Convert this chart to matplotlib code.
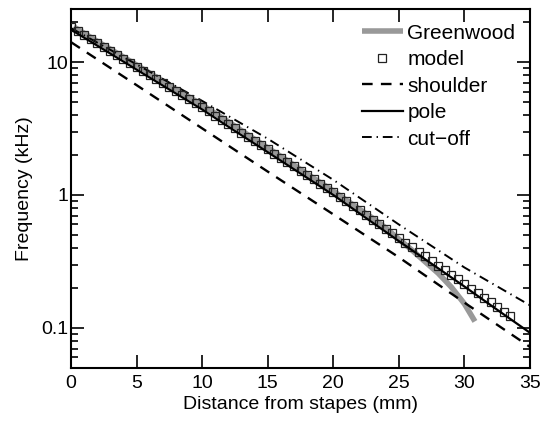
import matplotlib
matplotlib.use("Agg")
from matplotlib import pyplot as plt
from matplotlib.ticker import LogLocator, NullFormatter, FixedLocator, FixedFormatter

plt.rcParams['font.family'] = ['Liberation Sans', 'DejaVu Sans']

# Greenwood map (thick gray)
gw_x = [0.2, 2, 4, 6, 8, 10, 12, 14, 16, 18, 20, 22, 23, 24, 25, 26, 27, 28, 29, 30, 30.8]
gw_f = [18.4, 14.3, 10.9, 8.25, 6.25, 4.75, 3.55, 2.62, 1.95, 1.44, 1.07, 0.78, 0.67, 0.565,
        0.465, 0.385, 0.315, 0.258, 0.203, 0.152, 0.112]

# model (open squares), every 0.5 mm
model_x = [i * 0.5 for i in range(68)]
model_f = [18.28, 17.06, 15.92, 14.86, 13.87, 12.94, 12.08, 11.27, 10.52, 9.82,
           9.16, 8.55, 7.98, 7.45, 6.95, 6.49, 6.05, 5.65, 5.27, 4.92,
           4.59, 4.27, 3.96, 3.68, 3.42, 3.18, 2.95, 2.74, 2.55, 2.37,
           2.20, 2.04, 1.90, 1.76, 1.64, 1.52, 1.41, 1.31, 1.22, 1.13,
           1.05, 0.972, 0.898, 0.829, 0.766, 0.707, 0.653, 0.603, 0.557, 0.515,
           0.475, 0.439, 0.406, 0.375, 0.346, 0.320, 0.295, 0.273, 0.252, 0.233,
           0.215, 0.198, 0.183, 0.169, 0.156, 0.144, 0.133, 0.123]

# shoulder (dashed)
sh_x = [0, 5, 10, 15, 20, 25, 30, 35]
sh_f = [14.1, 6.7, 3.17, 1.5, 0.715, 0.34, 0.155, 0.072]

# pole (solid)
pole_x = [0, 2.5, 5, 7.5, 10, 12.5, 15, 17.5, 20, 22.5, 25, 27.5, 30, 32.5, 35]
pole_f = [17.5, 12.4, 8.77, 6.21, 4.40, 3.03, 2.10, 1.45, 1.00, 0.671, 0.450, 0.304,
          0.205, 0.137, 0.092]

# cut-off (dash-dot)
co_x = [0, 5, 10, 15, 20, 25, 30, 35]
co_f = [18.0, 9.6, 5.1, 2.65, 1.30, 0.60, 0.285, 0.148]

fig = plt.figure(figsize=(5.4, 4.23), dpi=100)
ax = fig.add_axes([0.1315, 0.130, 0.85, 0.8485])

ax.plot(gw_x, gw_f, color='#999999', lw=4, solid_capstyle='butt', label='Greenwood', zorder=1)
ax.plot(model_x, model_f, ls='none', marker='s', ms=6.3, mfc='none', mec='#222222', mew=0.9,
        label='model', zorder=3)
ax.plot(sh_x, sh_f, color='black', lw=1.7, dashes=(4.5, 3.5), label='shoulder', zorder=2)
ax.plot(pole_x, pole_f, color='black', lw=1.6, label='pole', zorder=4)
ax.plot(co_x, co_f, color='black', lw=1.4, dashes=(5, 2.5, 0.7, 2.5), label='cut\u2212off', zorder=2)

ax.set_yscale('log')
ax.set_xlim(0, 35)
ax.set_ylim(0.05, 25)

ax.xaxis.set_major_locator(FixedLocator([0, 5, 10, 15, 20, 25, 30, 35]))
ax.yaxis.set_major_locator(FixedLocator([0.1, 1, 10]))
ax.yaxis.set_major_formatter(FixedFormatter(['0.1', '1', '10']))
ax.yaxis.set_minor_locator(LogLocator(base=10, subs=range(2, 10)))
ax.yaxis.set_minor_formatter(NullFormatter())

ax.tick_params(which='both', direction='in', top=True, right=True, labelsize=14, width=1.2)
ax.tick_params(which='major', length=9.5)
ax.tick_params(which='minor', length=5)
ax.tick_params(axis='x', pad=5)
ax.tick_params(axis='y', pad=2)
for s in ax.spines.values():
    s.set_linewidth(1.5)

ax.set_xlabel('Distance from stapes (mm)', fontsize=14, labelpad=3)
ax.set_ylabel('Frequency (kHz)', fontsize=14, labelpad=6)

ax.legend(loc='upper right', bbox_to_anchor=(1.0, 1.0), frameon=False, fontsize=15,
          handlelength=2.0, handletextpad=0.2, labelspacing=0.36, numpoints=1,
          borderaxespad=0.3)

plt.savefig('out.png', dpi=100)
